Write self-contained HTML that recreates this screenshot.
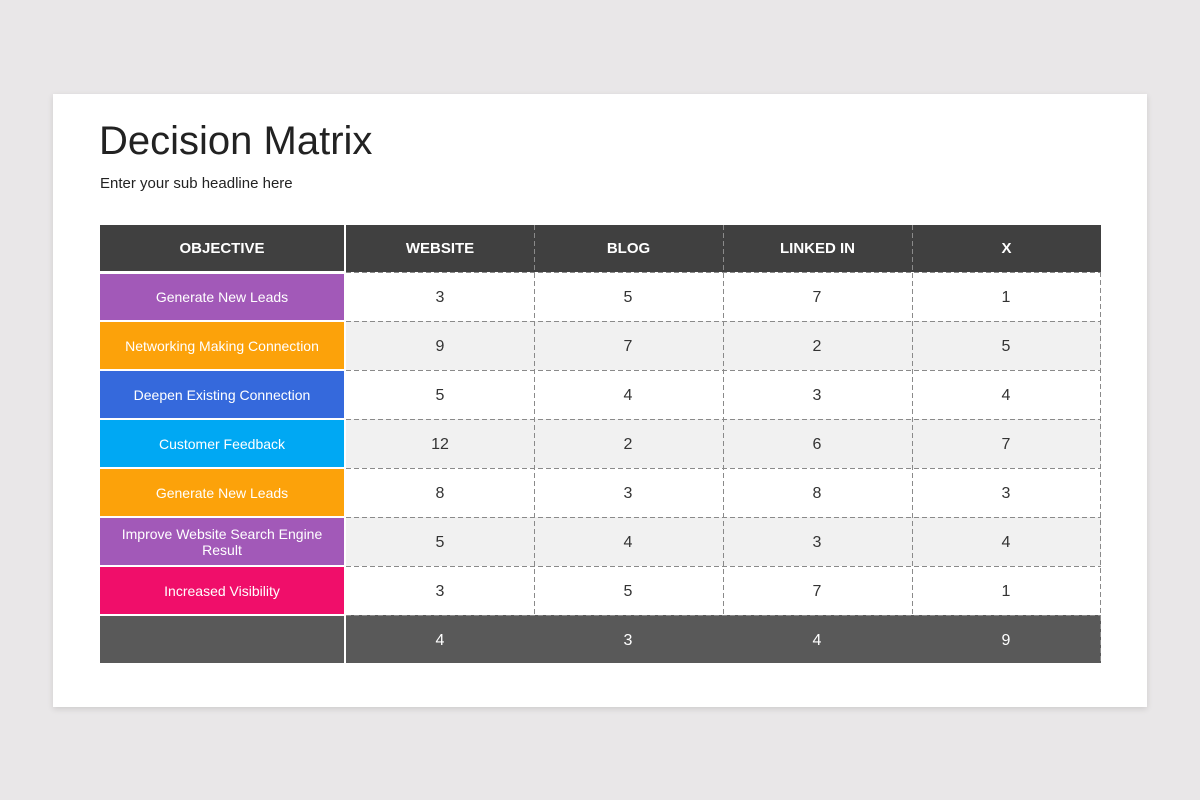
<!DOCTYPE html>
<html><head><meta charset="utf-8"><style>
body{margin:0;width:1200px;height:800px;background:#e9e7e8;position:relative;overflow:hidden;font-family:"Liberation Sans",Arial,sans-serif}
.card{position:absolute;left:53px;top:94px;width:1094px;height:613px;background:#fff;box-shadow:0 2px 6px rgba(0,0,0,.12)}
.a{position:absolute;display:flex;align-items:center;justify-content:center;text-align:center;box-sizing:border-box}
.h{background:#404040;color:#fff;font-weight:bold;font-size:15px}
.o{color:#fff;font-size:14px;line-height:16px;padding:0 10px}
.f{background:#595959;color:#fff;font-size:16px}
</style></head><body>
<div class="card"></div>
<div style="position:absolute;left:99px;top:119px;font-size:40px;color:#222">Decision Matrix</div>
<div style="position:absolute;left:100px;top:175px;font-size:15px;color:#222">Enter your sub headline here</div>

<div class="a h" style="left:100px;top:225px;width:244px;height:46px">OBJECTIVE</div>
<div class="a h" style="left:346px;top:225px;width:188px;height:47px">WEBSITE</div>
<div class="a h" style="left:534px;top:225px;width:189px;height:47px">BLOG</div>
<div class="a h" style="left:723px;top:225px;width:189px;height:47px">LINKED IN</div>
<div class="a h" style="left:912px;top:225px;width:189px;height:47px">X</div>

<div style="position:absolute;left:346px;top:321px;width:755px;height:49px;background:#f1f1f1"></div>
<div style="position:absolute;left:346px;top:419px;width:755px;height:49px;background:#f1f1f1"></div>
<div style="position:absolute;left:346px;top:517px;width:755px;height:49px;background:#f1f1f1"></div>

<div class="a o" style="left:100px;top:274px;width:244px;height:46px;background:#a259b8">Generate New Leads</div>
<div class="a o" style="left:100px;top:322px;width:244px;height:47px;background:#fca20a">Networking Making Connection</div>
<div class="a o" style="left:100px;top:371px;width:244px;height:47px;background:#3569dc">Deepen Existing Connection</div>
<div class="a o" style="left:100px;top:420px;width:244px;height:47px;background:#00a8f3">Customer Feedback</div>
<div class="a o" style="left:100px;top:469px;width:244px;height:47px;background:#fca20a">Generate New Leads</div>
<div class="a o" style="left:100px;top:518px;width:244px;height:47px;background:#a259b8">Improve Website Search Engine Result</div>
<div class="a o" style="left:100px;top:567px;width:244px;height:47px;background:#f00e6a">Increased Visibility</div>
<div class="a f" style="left:100px;top:616px;width:244px;height:47px"></div>
<div style="position:absolute;left:346px;top:615px;width:755px;height:48px;background:#595959"></div>

<svg style="position:absolute;left:0;top:0" width="1200" height="800">
<g stroke="#8a8a8a" stroke-width="1" stroke-dasharray="5,3" fill="none">
<line x1="346" y1="272.5" x2="1101" y2="272.5"/>
<line x1="346" y1="321.5" x2="1101" y2="321.5"/>
<line x1="346" y1="370.5" x2="1101" y2="370.5"/>
<line x1="346" y1="419.5" x2="1101" y2="419.5"/>
<line x1="346" y1="468.5" x2="1101" y2="468.5"/>
<line x1="346" y1="517.5" x2="1101" y2="517.5"/>
<line x1="346" y1="566.5" x2="1101" y2="566.5"/>
<line x1="346" y1="615.5" x2="1101" y2="615.5"/>
<line x1="534.5" y1="225" x2="534.5" y2="615"/>
<line x1="723.5" y1="225" x2="723.5" y2="615"/>
<line x1="912.5" y1="225" x2="912.5" y2="615"/>
<line x1="1100.5" y1="272" x2="1100.5" y2="663"/>
</g>
<g font-family="Liberation Sans, Arial, sans-serif" font-size="16" text-anchor="middle" fill="#333">
<text x="440" y="302">3</text><text x="628" y="302">5</text><text x="817" y="302">7</text><text x="1006" y="302">1</text>
<text x="440" y="351">9</text><text x="628" y="351">7</text><text x="817" y="351">2</text><text x="1006" y="351">5</text>
<text x="440" y="400">5</text><text x="628" y="400">4</text><text x="817" y="400">3</text><text x="1006" y="400">4</text>
<text x="440" y="449">12</text><text x="628" y="449">2</text><text x="817" y="449">6</text><text x="1006" y="449">7</text>
<text x="440" y="498">8</text><text x="628" y="498">3</text><text x="817" y="498">8</text><text x="1006" y="498">3</text>
<text x="440" y="547">5</text><text x="628" y="547">4</text><text x="817" y="547">3</text><text x="1006" y="547">4</text>
<text x="440" y="596">3</text><text x="628" y="596">5</text><text x="817" y="596">7</text><text x="1006" y="596">1</text>
<g fill="#fff"><text x="440" y="645">4</text><text x="628" y="645">3</text><text x="817" y="645">4</text><text x="1006" y="645">9</text></g>
</g>
</svg>
</body></html>
